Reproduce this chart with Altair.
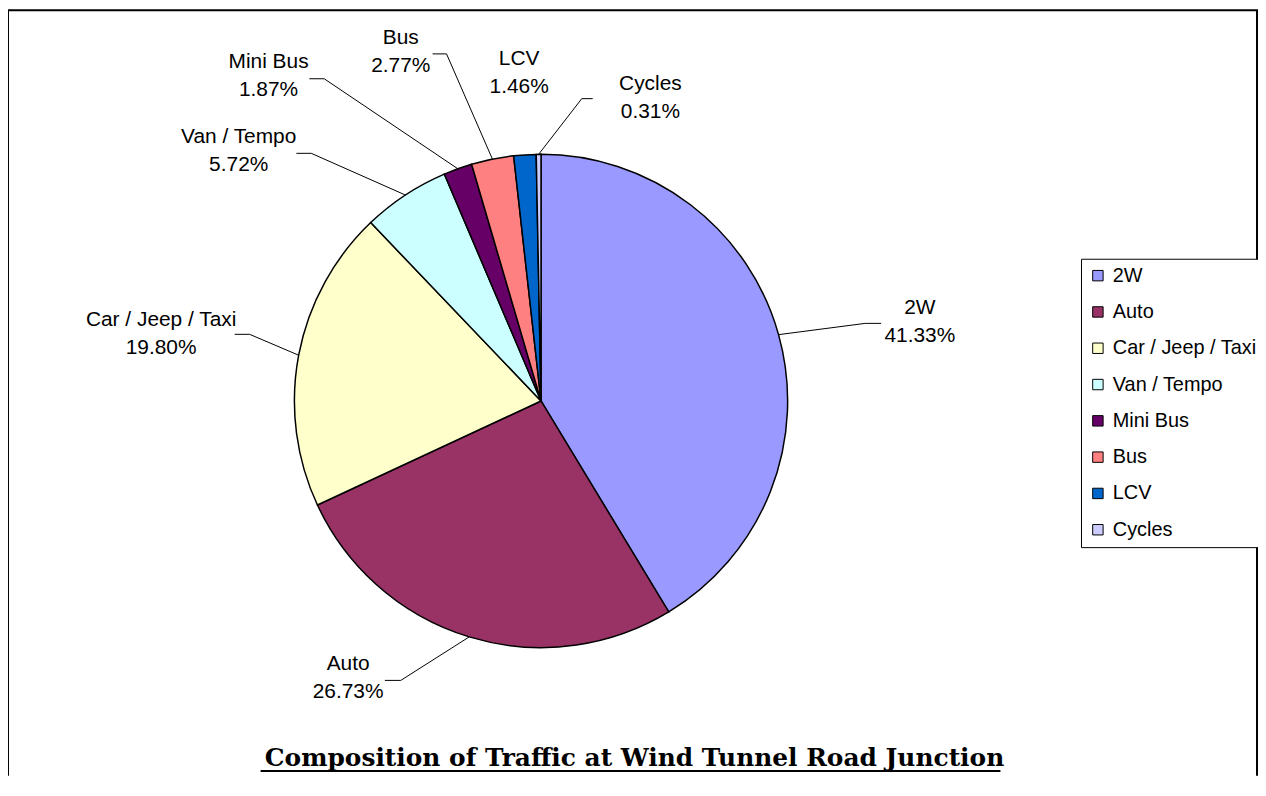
import math
import altair as alt
import pandas as pd

# ---- chart values ----
categories = ["2W", "Auto", "Car / Jeep / Taxi", "Van / Tempo", "Mini Bus", "Bus", "LCV", "Cycles"]
shares = [41.33, 26.73, 19.80, 5.72, 1.87, 2.77, 1.46, 0.31]
colors = ["#9999FF", "#993366", "#FFFFCC", "#CCFFFF", "#660066", "#FF8080", "#0066CC", "#CCCCFF"]
title_text = "Composition of Traffic at Wind Tunnel Road Junction"

# ---- layout (pixels inside the chart) ----
W, H = 1257, 770
DX = 3
CX, CY, R = 533 + DX, 393, 248
FONT = "Liberation Sans"
label_cx = [917, 342, 154, 232, 262, 395, 514, 646]
label_y1 = [300, 658, 312, 128, 52, 28, 49, 74]
LINE_GAP = 28
elbows = [(859, 315), (392, 674), (240, 326), (302, 144), (315, 69), (438, 44), None, (574, 89)]
ends = [(875, 315), (376, 674), (225, 326), (287, 144), (300, 69), (424, 44), None, (585, 89)]

pie_df = pd.DataFrame({"category": categories, "share": shares, "order": list(range(len(categories)))})

total = sum(shares)
text_rows, line_rows = [], []
cum = 0.0
for i, (c, v) in enumerate(zip(categories, shares)):
    mid = (cum + v / 2) / total * 2 * math.pi
    cum += v
    text_rows.append({"t": c, "x": label_cx[i], "y": label_y1[i]})
    text_rows.append({"t": f"{v:.2f}%", "x": label_cx[i], "y": label_y1[i] + LINE_GAP})
    if elbows[i] is not None:
        ex, ey = CX + R * math.sin(mid), CY - R * math.cos(mid)
        pts = [(ex, ey), (elbows[i][0] + DX, elbows[i][1]), (ends[i][0] + DX, ends[i][1])]
        for s, (px, py) in enumerate(pts):
            line_rows.append({"category": c, "seq": s, "x": px, "y": py})

text_df = pd.DataFrame(text_rows)
line_df = pd.DataFrame(line_rows)

pie = alt.Chart(pie_df).mark_arc(radius=R, stroke="black", strokeWidth=1.5).encode(
    theta=alt.Theta("share:Q", stack=True),
    order=alt.Order("order:Q"),
    color=alt.Color(
        "category:N",
        scale=alt.Scale(domain=categories, range=colors),
        legend=alt.Legend(
            title=None, orient="none", legendX=1079, legendY=250,
            strokeColor="black", fillColor="white", padding=7,
            symbolType="square", symbolSize=110, symbolStrokeColor="black",
            symbolStrokeWidth=1, labelFontSize=20, labelFont=FONT, labelColor="black",
            labelLimit=400, rowPadding=16.5, labelOffset=5, cornerRadius=0,
        ),
    ),
    x=alt.value(CX),
    y=alt.value(CY),
)

leaders = alt.Chart(line_df).mark_line(color="black", strokeWidth=1).encode(
    x=alt.X("x:Q", scale=None, axis=None),
    y=alt.Y("y:Q", scale=None, axis=None),
    detail="category:N",
    order=alt.Order("seq:Q"),
)

labels = alt.Chart(text_df).mark_text(
    font=FONT, fontSize=21, color="black", align="center", baseline="middle"
).encode(
    x=alt.X("x:Q", scale=None, axis=None),
    y=alt.Y("y:Q", scale=None, axis=None),
    text="t:N",
)

one = pd.DataFrame({"k": [0]})
title = alt.Chart(one).mark_text(
    text=title_text, font="DejaVu Serif", fontWeight="bold", fontSize=25,
    align="center", baseline="alphabetic", color="black",
).encode(x=alt.value(630), y=alt.value(760))
underline = alt.Chart(one).mark_rule(color="black", strokeWidth=2).encode(
    x=alt.value(254), x2=alt.value(998), y=alt.value(765)
)
frame_left = alt.Chart(one).mark_rule(color="black", strokeWidth=2).encode(
    x=alt.value(0), y=alt.value(0), y2=alt.value(H)
)
frame_top = alt.Chart(one).mark_rule(color="black", strokeWidth=2).encode(
    x=alt.value(0), x2=alt.value(W), y=alt.value(0)
)
frame_right = alt.Chart(one).mark_rule(color="black", strokeWidth=2).encode(
    x=alt.value(W - 1), y=alt.value(0), y2=alt.value(H)
)

chart = alt.layer(
    pie, leaders, labels, title, underline, frame_left, frame_top, frame_right
).properties(
    width=W, height=H, padding=0, autosize=alt.AutoSizeParams(type="none"),
    background="white",
).configure_view(stroke=None)

chart.save("out.html", embed_options={"renderer": "svg", "actions": False})
